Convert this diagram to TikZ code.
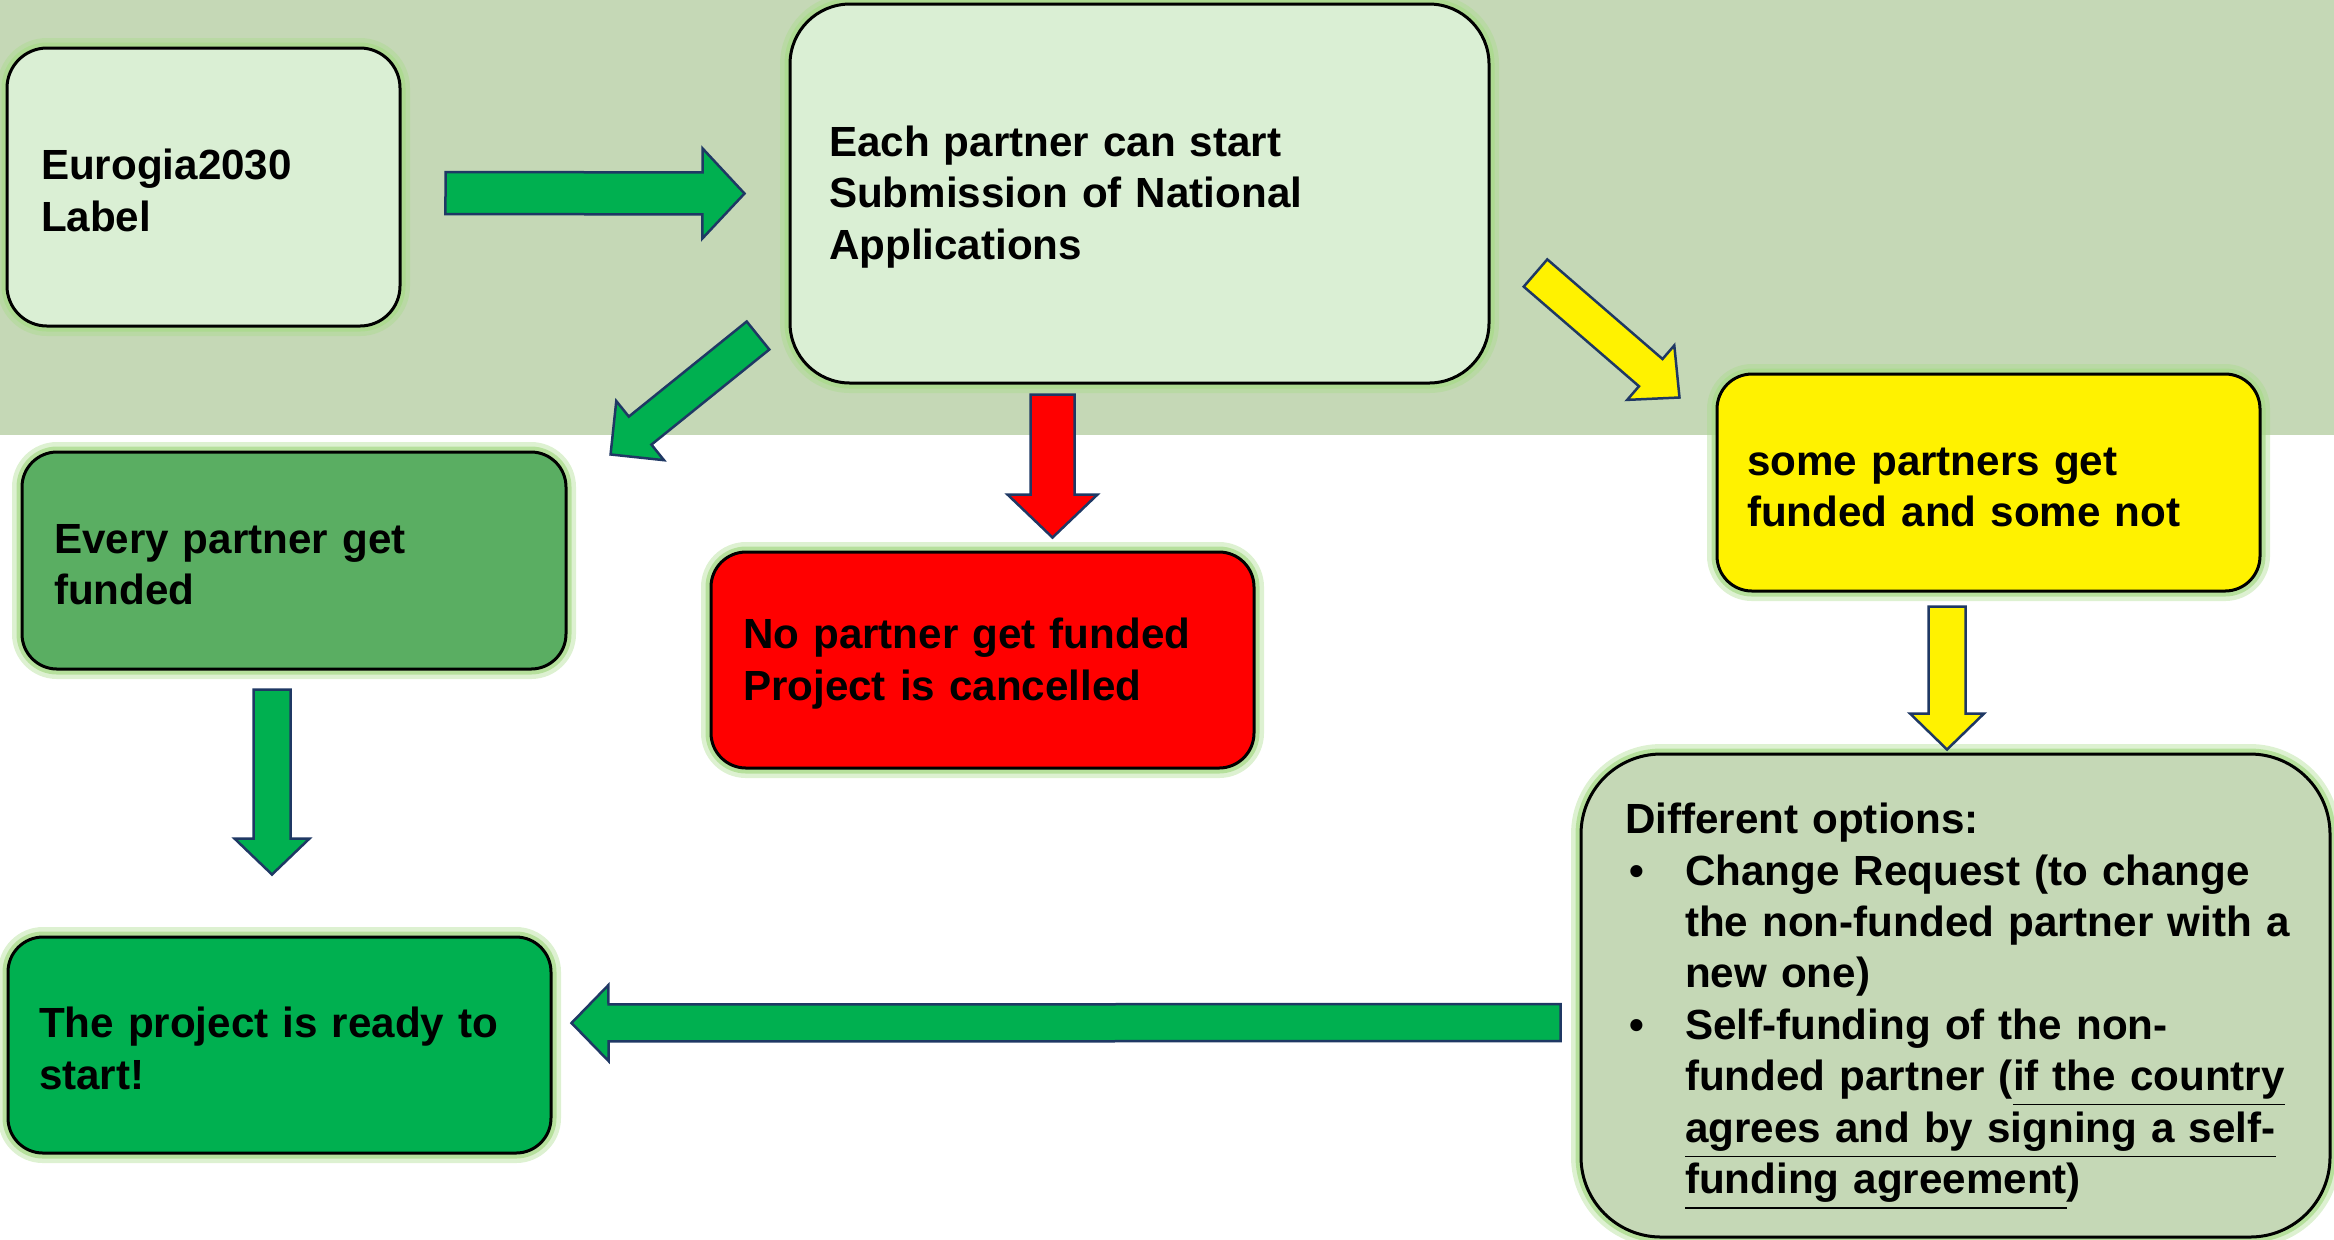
\documentclass[tikz,border=0pt]{standalone}
\usepackage{fontspec}
\setmainfont{Liberation Sans}
\usepackage{tikz}
\usetikzlibrary{calc}
\definecolor{bandgreen}{HTML}{C5D8B6}
\definecolor{palegreen}{HTML}{DAEFD4}
\definecolor{midgreen}{HTML}{5AAE62}
\definecolor{brightgreen}{HTML}{00B050}
\definecolor{navy}{HTML}{1F3864}
\definecolor{glowgreen}{HTML}{A9DB8B}
\newcommand{\boxfont}{\fontsize{12pt}{14.65pt}\selectfont\bfseries}
% block arrow: style, tail, tip, half shaft, half head, head length
\newcommand{\blockarrow}[6]{%
    \draw[#1] let \p1=($(#3)-(#2)$), \n1={atan2(\y1,\x1)}, \n2={veclen(\x1,\y1)} in
        [shift={(#2)}, rotate=\n1]
        (0pt,-#4) -- ({\n2-#6},-#4) -- ({\n2-#6},-#5) -- (\n2,0pt)
        -- ({\n2-#6},#5) -- ({\n2-#6},#4) -- (0pt,#4) -- cycle;
}
\newcommand{\bul}{\makebox[6mm][l]{\hspace{0.4mm}•}}
\newcommand{\ind}{\hspace*{6mm}}

\begin{document}
\begin{tikzpicture}[x=0.1mm,y=-0.1mm,
glow/.style={preaction={draw=glowgreen, line width=2mm, opacity=0.4},
    preaction={draw=glowgreen, line width=1.1mm, opacity=0.75}},
box/.style={draw=black, line width=0.3mm, align=left, font=\boxfont, glow,
    execute at begin node={\rule{0pt}{10.6pt}}},
blockgreen/.style={fill=brightgreen, draw=navy, line width=0.25mm, line join=miter},
blockred/.style={blockgreen, fill=red},
blockyellow/.style={blockgreen, fill=yellow}]
\useasboundingbox (0,0) rectangle (2334,1239);
\fill[bandgreen] (0,0) rectangle (2334,435);

%boxes
\node[box, fill=palegreen, rounded corners=4mm, minimum width=39.3mm, minimum height=27.8mm,
    inner xsep=3.4mm, text width=32.5mm] (label) at (203.5,187) {Eurogia2030\\Label};
\node[box, fill=palegreen, rounded corners=6mm, minimum width=69.9mm, minimum height=37.9mm,
    inner xsep=3.9mm, text width=62.1mm] (submit) at (1139.5,193.5)
    {Each partner can start\\Submission of National\\Applications};
\node[box, fill=midgreen, rounded corners=3.5mm, minimum width=54.4mm, minimum height=21.7mm,
    inner xsep=3.2mm, text width=48mm] (allfund) at (294,560.5) {Every partner get\\funded};
\node[box, fill=red, rounded corners=3.5mm, minimum width=54.3mm, minimum height=21.6mm,
    inner xsep=3.2mm, text width=47.9mm] (nofund) at (982.5,660)
    {No partner get funded\\Project is cancelled};
\node[box, fill=yellow, rounded corners=3.5mm, minimum width=54.3mm, minimum height=21.7mm,
    inner xsep=3mm, text width=48.3mm] (somefund) at (1988.5,482.5)
    {some partners get\\funded and some not};
\node[box, fill=bandgreen, rounded corners=8mm, minimum width=74.9mm, minimum height=48.3mm,
    inner xsep=4.4mm, text width=66.1mm, execute at begin node={\rule{0pt}{14.9pt}}]
    (options) at (1955.5,995.5)
    {Different options:\\
    \bul Change Request (to change\\
    \ind\mbox{the non-funded partner with a}\\
    \ind new one)\\
    \bul Self-funding of the non-\\
    \ind\mbox{funded partner (\underline{if the country}}\\
    \ind\mbox{\underline{agrees and by signing a self-}}\\
    \ind\mbox{\underline{funding agreement})}};
\node[box, fill=brightgreen, rounded corners=3.5mm, minimum width=54.3mm, minimum height=21.6mm,
    inner xsep=3.1mm, text width=48.1mm] (ready) at (279.5,1045)
    {The project is ready to\\start!};

%arrow ends
\coordinate (a1) at ($(label.east)+(44,6)$);
\coordinate (a1t) at ($(submit.west)+(-44,0)$);
\coordinate (a2) at ($(submit.south west)+(-30.5,-49)$);
\coordinate (a2t) at ($(allfund.north east)+(43,4)$);
\coordinate (a3) at ($(nofund.north)+(70,-156)$);
\coordinate (a3t) at ($(nofund.north)+(70,-13)$);
\coordinate (a4) at ($(submit.east)+(45,79.5)$);
\coordinate (a4t) at ($(somefund.north west)+(-36,25)$);
\coordinate (a5) at ($(somefund.south)+(-41.5,14)$);
\coordinate (a5t) at ($(somefund.south)+(-41.5,157)$);
\coordinate (a6) at ($(allfund.south)+(-22,19)$);
\coordinate (a6t) at ($(allfund.south)+(-22,204)$);
\coordinate (a7) at ($(options.west)+(-19,27)$);
\coordinate (a7t) at ($(ready.east)+(19,-22)$);

\blockarrow{blockgreen}{a1}{a1t}{2.1mm}{4.5mm}{4.2mm}
\blockarrow{blockgreen}{a2}{a2t}{1.8mm}{3.8mm}{3.8mm}
\blockarrow{blockred}{a3}{a3t}{2.2mm}{4.5mm}{4.3mm}
\blockarrow{blockyellow}{a4}{a4t}{1.8mm}{3.6mm}{3.8mm}
\blockarrow{blockyellow}{a5}{a5t}{1.85mm}{3.7mm}{3.6mm}
\blockarrow{blockgreen}{a6}{a6t}{1.85mm}{3.75mm}{3.6mm}
\blockarrow{blockgreen}{a7}{a7t}{1.85mm}{3.8mm}{3.7mm}
\end{tikzpicture}
\end{document}
